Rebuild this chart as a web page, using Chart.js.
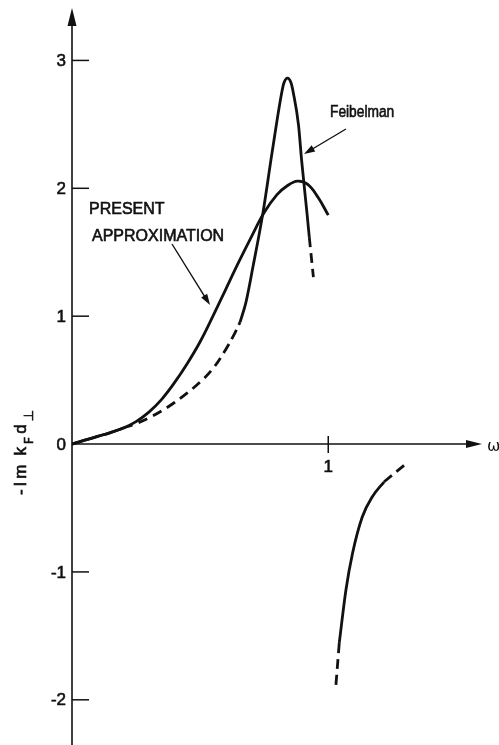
<!DOCTYPE html>
<html>
<head>
<meta charset="utf-8">
<script src="https://cdn.jsdelivr.net/npm/chart.js@4.4.0/dist/chart.umd.min.js"></script>
<style>
  html, body { margin: 0; padding: 0; background: #fff; }
</style>
</head>
<body>
<canvas id="graf" width="499" height="745"></canvas>
<script>
// ---------- dados ----------
// x = omega, y = -Im kF d_perp
const presentOmega = [0, 0.05, 0.10, 0.15, 0.20, 0.25, 0.30, 0.35, 0.40, 0.45, 0.50, 0.55, 0.60, 0.65, 0.70, 0.75, 0.80, 0.84, 0.88, 0.92, 0.96, 1.00];
const presentVal   = [0, 0.03, 0.06, 0.09, 0.125, 0.175, 0.25, 0.35, 0.48, 0.63, 0.80, 1.00, 1.21, 1.42, 1.62, 1.81, 1.95, 2.02, 2.056, 2.03, 1.93, 1.79];

// Feibelman: trecho sólido inicial, tracejado, pico sólido, tracejado final
const feibLowOmega  = [0, 0.05, 0.10, 0.15, 0.20];
const feibLowVal    = [0, 0.03, 0.06, 0.09, 0.125];
const feibDashOmega = [0.20, 0.25, 0.30, 0.35, 0.40, 0.45, 0.50, 0.55, 0.60, 0.636, 0.656];
const feibDashVal   = [0.125, 0.16, 0.205, 0.26, 0.325, 0.40, 0.485, 0.59, 0.74, 0.87, 0.954];
const feibPeakOmega = [0.656, 0.679, 0.706, 0.745, 0.781, 0.818, 0.827, 0.841, 0.855, 0.864, 0.884, 0.896, 0.917, 0.926];
const feibPeakVal   = [0.954, 1.110, 1.384, 1.806, 2.283, 2.744, 2.823, 2.861, 2.823, 2.744, 2.494, 2.220, 1.806, 1.618];
const feibTailOmega = [0.926, 0.942];
const feibTailVal   = [1.618, 1.306];

// ramo negativo acima de omega = 1
const negLowOmega   = [1.030, 1.043];
const negLowVal     = [-1.883, -1.555];
const negOmega      = [1.043, 1.069, 1.095, 1.133, 1.172, 1.218];
const negVal        = [-1.555, -1.141, -0.852, -0.568, -0.412, -0.295];
const negHighOmega  = [1.218, 1.302];
const negHighVal    = [-0.295, -0.156];

const yTicks = [-2, -1, 0, 1, 2, 3];
const xTicks = [1];

// ---------- helpers ----------
function pts(xs, ys) {
  return xs.map((x, i) => ({ x: x, y: ys[i] }));
}

const INK = "#111";
const DASH = [10, 6];

function serie(xs, ys, dashed, modo) {
  return {
    data: pts(xs, ys),
    borderColor: INK,
    borderWidth: 2.8,
    borderDash: dashed ? DASH : [],
    pointRadius: 0,
    fill: false,
    tension: 0.4,
    cubicInterpolationMode: modo || "default",
    borderCapStyle: "butt",
  };
}

function seta(ctx, x1, y1, x2, y2, len, half) {
  const a = Math.atan2(y2 - y1, x2 - x1);
  ctx.beginPath();
  ctx.moveTo(x1, y1);
  ctx.lineTo(x2 - Math.cos(a) * len * 0.8, y2 - Math.sin(a) * len * 0.8);
  ctx.stroke();
  ctx.beginPath();
  ctx.moveTo(x2, y2);
  ctx.lineTo(x2 - Math.cos(a) * len + Math.sin(a) * half, y2 - Math.sin(a) * len - Math.cos(a) * half);
  ctx.lineTo(x2 - Math.cos(a) * len - Math.sin(a) * half, y2 - Math.sin(a) * len + Math.cos(a) * half);
  ctx.closePath();
  ctx.fill();
}

// texto um pouco mais "gordo", como na figura original
function textoForte(ctx, t, x, y, sx) {
  ctx.save();
  ctx.translate(x, y);
  ctx.scale(sx || 1, 1);
  ctx.lineWidth = 0.6;
  ctx.fillText(t, 0, 0);
  ctx.strokeText(t, 0, 0);
  ctx.restore();
}

// ---------- eixos e textos desenhados à mão ----------
const eixos = {
  id: "eixos",
  beforeDatasetsDraw(chart) {
    const { ctx, scales } = chart;
    const sx = scales.x, sy = scales.y;
    const x0 = sx.getPixelForValue(0);
    const y0 = sy.getPixelForValue(0);
    ctx.save();
    ctx.strokeStyle = INK;
    ctx.fillStyle = INK;
    ctx.lineWidth = 1.6;

    // eixo y com seta para cima
    seta(ctx, x0, 745, x0, 8, 18, 4.5);
    // eixo x com seta para a direita
    seta(ctx, x0, y0, 482, y0, 16, 4);

    ctx.lineWidth = 1.5;
    yTicks.forEach((v) => {
      if (v === 0) return;
      const y = sy.getPixelForValue(v);
      ctx.beginPath();
      ctx.moveTo(x0, y);
      ctx.lineTo(x0 + 17, y);
      ctx.stroke();
    });
    xTicks.forEach((v) => {
      const x = sx.getPixelForValue(v);
      ctx.beginPath();
      ctx.moveTo(x, y0 - 8);
      ctx.lineTo(x, y0 + 9);
      ctx.stroke();
    });

    ctx.font = "17px 'Liberation Sans', Arial, sans-serif";
    ctx.textAlign = "right";
    ctx.textBaseline = "middle";
    yTicks.forEach((v) => {
      textoForte(ctx, v < 0 ? "-" + Math.abs(v) : String(v), x0 - 6, sy.getPixelForValue(v) + 1);
    });
    ctx.textAlign = "center";
    ctx.textBaseline = "top";
    xTicks.forEach((v) => {
      textoForte(ctx, String(v), sx.getPixelForValue(v), y0 + 15);
    });

    // omega
    ctx.textAlign = "left";
    ctx.textBaseline = "middle";
    ctx.font = "16px 'DejaVu Sans', sans-serif";
    ctx.fillText("ω", 487, y0 + 3);
    ctx.restore();
  },
  afterDatasetsDraw(chart) {
    const { ctx } = chart;
    ctx.save();
    ctx.fillStyle = INK;
    ctx.strokeStyle = INK;

    // rótulos das curvas
    ctx.font = "16px 'Liberation Sans', Arial, sans-serif";
    ctx.textAlign = "left";
    ctx.textBaseline = "alphabetic";
    textoForte(ctx, "PRESENT", 89, 214);
    textoForte(ctx, "APPROXIMATION", 92, 241);
    ctx.font = "16px 'Liberation Sans', Arial, sans-serif";
    textoForte(ctx, "Feibelman", 330, 117, 0.86);

    ctx.lineWidth = 1.4;
    seta(ctx, 172, 244, 210, 305, 11, 3.5);
    seta(ctx, 346, 129, 304, 154, 11, 3.5);

    // título do eixo y: -Im kF d⊥ (vertical)
    const partes = [
      { t: "-", sub: false }, { t: "I", sub: false }, { t: "m", sub: false },
      { t: "k", sub: false }, { t: "F", sub: true }, { t: "d", sub: false }, { t: "⊥", sub: true },
    ];
    const fMain = "17px 'Liberation Sans', Arial, sans-serif";
    const fSub = "13px 'DejaVu Sans', sans-serif";
    let total = 0;
    partes.forEach((p) => {
      ctx.font = p.sub ? fSub : fMain;
      p.w = ctx.measureText(p.t).width;
      total += p.w;
    });
    const extra = 6; // espaço maior entre "m" e "k"
    const gap = (85 - total - extra) / (partes.length - 1);
    ctx.translate(26, 495);
    ctx.rotate(-Math.PI / 2);
    let pos = 0;
    partes.forEach((p, i) => {
      ctx.font = p.sub ? fSub : fMain;
      textoForte(ctx, p.t, pos, p.sub ? 7 : 0);
      pos += p.w + gap + (i === 2 ? extra : 0);
    });
    ctx.restore();
  },
};

// ---------- gráfico ----------
const chart = new Chart(document.getElementById("graf"), {
  type: "line",
  data: {
    datasets: [
      serie(presentOmega, presentVal, false),
      serie(feibLowOmega, feibLowVal, false),
      serie(feibDashOmega, feibDashVal, true),
      serie(feibPeakOmega, feibPeakVal, false, "monotone"),
      serie(feibTailOmega, feibTailVal, true),
      serie(negLowOmega, negLowVal, true),
      serie(negOmega, negVal, false, "monotone"),
      serie(negHighOmega, negHighVal, true),
    ],
  },
  options: {
    responsive: false,
    animation: false,
    layout: { padding: { left: 72, top: 8, right: 17, bottom: 3 } },
    plugins: { legend: { display: false }, tooltip: { enabled: false } },
    scales: {
      x: { type: "linear", min: 0, max: 1.6, display: false },
      y: { type: "linear", min: -2.33, max: 3.41, display: false },
    },
  },
  plugins: [eixos],
});
</script>
</body>
</html>
